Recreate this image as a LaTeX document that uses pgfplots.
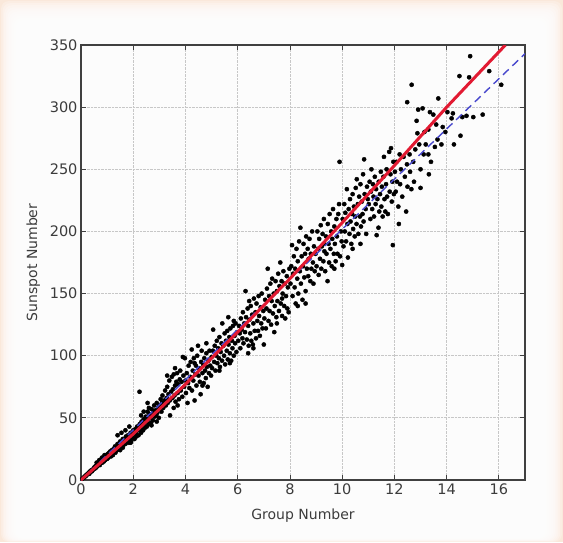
\documentclass[border=0pt]{standalone}
\usepackage{fontspec}
\setmainfont{DejaVu Sans}
\usepackage{pgfplots}
\usepackage{pgfplotstable}
\pgfplotsset{compat=1.18}

\definecolor{peach}{RGB}{250,232,218}
\definecolor{fitred}{RGB}{226,26,50}
\definecolor{refblue}{RGB}{72,72,205}
\definecolor{txtgray}{RGB}{60,60,60}

% monthly group number vs sunspot number
\pgfplotstableread{
x y
0.05 1
0.1 2
0.12 2
0.15 3
0.18 3
0.2 4
0.22 4
0.25 5
0.28 5
0.3 6
0.32 5
0.35 7
0.38 7
0.4 8
0.42 7
0.45 8
0.48 9
0.5 10
0.52 9
0.55 11
0.58 10
0.6 12
0.62 11
0.65 12
0.68 13
0.7 14
0.72 12
0.75 15
0.78 14
0.8 16
0.82 14
0.85 17
0.88 15
0.9 18
0.92 16
0.95 19
0.98 17
1.0 20
0.6 14
0.7 16
0.8 18
0.9 20
1.0 17
1.02 21
1.05 18
1.08 22
1.1 20
1.12 23
1.15 19
1.18 24
1.2 22
1.22 20
1.25 25
1.28 23
1.3 27
1.32 22
1.35 26
1.38 24
1.4 29
1.42 25
1.45 28
1.48 26
1.5 31
1.5 24
1.55 29
1.58 27
1.6 33
1.62 28
1.65 30
1.68 32
1.7 29
1.72 35
1.75 31
1.78 33
1.8 36
1.82 30
1.85 35
1.88 33
1.9 38
1.92 31
1.95 36
1.98 34
2.0 40
1.4 36
1.55 38
1.7 40
1.85 43
1.6 26
1.9 30
2.02 37
2.05 33
2.08 41
2.1 38
2.12 35
2.15 43
2.18 40
2.2 36
2.24 71
2.25 45
2.28 41
2.3 38
2.32 47
2.35 43
2.38 40
2.4 49
2.42 45
2.45 42
2.48 51
2.5 47
2.52 43
2.55 55
2.58 49
2.6 45
2.62 53
2.65 50
2.68 46
2.7 57
2.72 52
2.75 48
2.78 55
2.8 60
2.82 51
2.85 56
2.88 52
2.9 62
2.92 54
2.95 58
2.98 50
3.0 60
2.4 55
2.6 58
2.3 52
2.7 44
2.9 47
2.55 62
3.02 58
3.05 65
3.08 55
3.1 62
3.12 68
3.15 58
3.2 64
3.22 72
3.25 60
3.28 66
3.3 75
3.32 62
3.35 69
3.38 80
3.4 64
3.41 52
3.45 71
3.48 83
3.5 66
3.52 73
3.55 85
3.58 68
3.6 76
3.62 63
3.65 79
3.68 86
3.7 70
3.72 77
3.75 65
3.78 81
3.8 88
3.82 72
3.85 79
3.88 67
3.9 99
3.92 84
3.95 75
3.98 98
4.0 80
3.55 58
3.7 60
3.3 84
3.6 90
4.02 70
4.05 86
4.08 62
4.1 78
4.12 92
4.15 74
4.18 83
4.2 95
4.24 105
4.25 72
4.28 88
4.3 80
4.32 98
4.35 64
4.38 85
4.4 92
4.42 76
4.45 100
4.48 108
4.5 84
4.52 90
4.55 79
4.58 69
4.6 95
4.62 104
4.65 86
4.68 93
4.7 78
4.72 98
4.75 88
4.78 82
4.8 102
4.82 91
4.85 75
4.88 96
4.9 86
4.92 104
4.95 92
4.98 84
5.0 99
4.35 94
4.65 76
4.8 110
5.02 90
5.05 104
5.06 121
5.1 95
5.12 108
5.15 88
5.18 100
5.2 112
5.22 94
5.25 106
5.28 98
5.3 115
5.32 91
5.35 103
5.38 110
5.4 96
5.41 126
5.45 108
5.48 100
5.5 118
5.52 93
5.55 112
5.58 104
5.6 120
5.62 97
5.64 131
5.65 109
5.68 115
5.7 102
5.72 122
5.75 96
5.78 112
5.8 106
5.82 124
5.85 100
5.88 116
5.9 110
5.92 126
5.95 103
5.98 119
5.3 88
5.7 94
5.85 128
6.02 112
6.05 124
6.08 118
6.1 106
6.12 130
6.15 121
6.18 114
6.2 135
6.22 110
6.25 126
6.28 119
6.3 152
6.32 131
6.35 113
6.38 138
6.4 124
6.42 108
6.44 144
6.45 129
6.48 118
6.5 140
6.52 112
6.55 133
6.58 109
6.6 126
6.62 146
6.65 120
6.68 135
6.7 114
6.72 142
6.75 128
6.78 120
6.8 148
6.82 132
6.85 116
6.88 139
6.9 126
6.92 150
6.95 122
6.98 136
7.0 109
6.4 102
6.6 106
7.02 130
7.05 145
7.08 122
7.1 138
7.12 154
7.15 170
7.18 128
7.2 148
7.22 136
7.25 158
7.28 125
7.3 144
7.32 162
7.35 134
7.38 150
7.4 119
7.42 140
7.45 160
7.48 131
7.5 152
7.52 144
7.55 166
7.58 136
7.6 156
7.63 175
7.65 142
7.68 160
7.7 132
7.72 150
7.75 168
7.78 140
7.8 158
7.82 130
7.85 148
7.88 164
7.9 138
7.92 155
7.95 135
7.98 170
7.5 126
7.7 146
8.02 158
8.05 172
8.08 189
8.1 148
8.12 166
8.15 180
8.18 155
8.2 170
8.22 142
8.25 186
8.28 162
8.3 176
8.32 150
8.35 192
8.38 168
8.4 203
8.42 158
8.45 180
8.48 145
8.5 172
8.52 190
8.55 163
8.58 182
8.6 152
8.62 196
8.65 170
8.68 186
8.7 164
8.72 178
8.75 194
8.78 160
8.8 182
8.82 170
8.85 200
8.88 175
8.9 158
8.92 188
8.95 168
8.98 182
8.3 140
8.6 142
9.02 172
9.05 200
9.08 186
9.1 165
9.12 194
9.15 178
9.18 205
9.2 170
9.22 188
9.25 198
9.28 176
9.3 210
9.32 184
9.35 168
9.38 196
9.4 182
9.44 160
9.45 206
9.48 190
9.5 175
9.52 214
9.55 186
9.58 200
9.6 172
9.62 194
9.65 218
9.68 182
9.7 204
9.72 190
9.75 176
9.78 210
9.8 196
9.82 182
9.85 214
9.88 222
9.9 256
9.92 180
9.95 200
9.98 192
10.0 173
9.3 190
9.7 170
10.02 210
10.05 188
10.08 222
10.1 200
10.12 215
10.15 192
10.18 234
10.2 206
10.22 179
10.25 218
10.28 198
10.3 226
10.32 208
10.35 190
10.38 214
10.4 230
10.42 202
10.45 220
10.48 196
10.5 212
10.52 235
10.55 206
10.56 242
10.6 222
10.62 198
10.65 228
10.68 212
10.7 238
10.72 204
10.75 224
10.78 214
10.8 246
10.82 208
10.84 258
10.86 230
10.9 218
10.92 198
10.95 236
10.98 226
10.4 186
10.7 190
11.02 222
11.05 240
11.08 210
11.1 232
11.12 250
11.15 218
11.18 238
11.2 228
11.22 212
11.25 244
11.28 222
11.3 234
11.32 197
11.35 226
11.39 203
11.4 240
11.42 216
11.45 230
11.48 248
11.5 220
11.52 236
11.55 212
11.58 244
11.6 260
11.62 226
11.65 216
11.68 238
11.7 250
11.72 228
11.75 214
11.8 264
11.82 232
11.85 246
11.87 267
11.9 224
11.92 240
11.94 189
11.96 256
11.98 230
12.02 248
12.05 232
12.08 256
12.1 240
12.15 220
12.17 206
12.2 262
12.22 238
12.25 250
12.3 228
12.35 260
12.4 244
12.45 216
12.48 254
12.5 236
12.49 304
12.58 262
12.6 248
12.65 234
12.66 318
12.72 256
12.75 240
12.8 266
12.85 289
12.88 279
12.95 270
12.91 298
13.0 235
13.0 250
13.08 299
13.12 262
13.15 280
13.2 270
13.3 282
13.3 262
13.32 246
13.36 296
13.4 256
13.49 294
13.55 268
13.6 286
13.65 274
13.68 307
13.8 270
13.85 284
13.95 280
14.03 296
14.19 291
14.24 295
14.28 270
14.49 325
14.53 277
14.6 292
14.76 293
14.86 324
14.9 341
15.02 292
15.38 294
15.63 329
16.09 318
}\groupdata

% fitted relation and linear reference
\pgfplotstableread{
x y
0 0
2 37
4 77
6 119
8 162
10 207
12 253
14 300
16.25 350
}\fitline

\pgfplotstableread{
x y
0 0
17 343
}\refline

\begin{document}
\begin{tikzpicture}
\useasboundingbox (0,0) rectangle (563pt,542pt);
\fill[peach] (0,0) rectangle (563pt,542pt);
\foreach \i in {0,...,11}{
  \fill[white,opacity=0.26,rounded corners=8pt]
    ({(1+1.6*\i)*1pt},{(0+0.4*\i)*1pt}) rectangle
    ({(562-1.8*\i)*1pt},{(541-2.1*\i)*1pt});
}
\begin{axis}[
  at={(81pt,62pt)}, anchor=south west,
  scale only axis, width=444pt, height=435pt,
  xmin=0, xmax=17, ymin=0, ymax=350,
  xtick={0,2,...,16}, ytick={0,50,...,350},
  tick align=inside,
  major tick length=5pt,
  tick style={black!75, line width=0.8pt},
  xtick pos=both, ytick pos=both,
  axis line style={black!75, line width=1.3pt},
  grid=major,
  grid style={black!22, densely dotted, line width=0.8pt},
  tick label style={txtgray, font=\fontsize{14.5}{17}\selectfont},
  /pgf/number format/assume math mode=true,
  xlabel={Group Number},
  ylabel={Sunspot Number},
  label style={txtgray, font=\fontsize{14}{17}\selectfont},
  xlabel style={yshift=-7pt},
  ylabel style={yshift=3pt},
  clip=true,
  clip mode=individual,
]
\addplot[only marks, mark=*, mark size=2.1pt, draw=black, fill=black] table {\groupdata};
\addplot[refblue, line width=1.4pt, dash pattern=on 8pt off 5pt] table {\refline};
\addplot[fitred, line width=3pt] table {\fitline};
\end{axis}
\end{tikzpicture}
\end{document}
